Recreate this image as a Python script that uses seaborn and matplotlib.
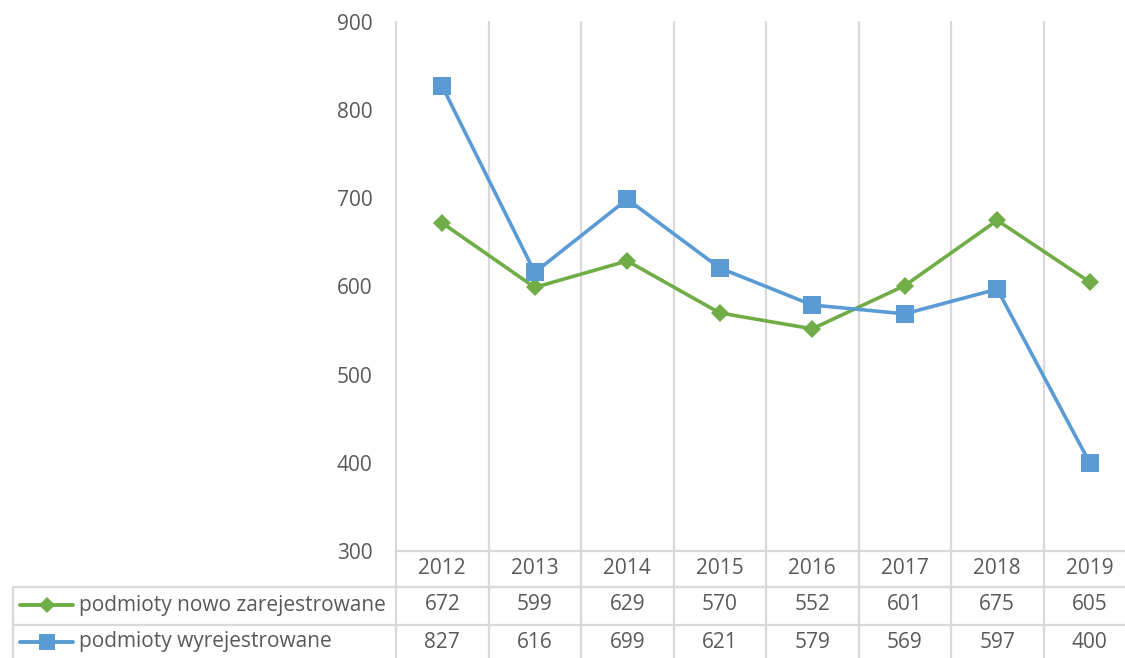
import matplotlib
matplotlib.use("Agg")
import matplotlib.pyplot as plt
from matplotlib.transforms import blended_transform_factory
from matplotlib.lines import Line2D
import seaborn as sns
import pandas as pd

years = [2012, 2013, 2014, 2015, 2016, 2017, 2018, 2019]
new_registered = [672, 599, 629, 570, 552, 601, 675, 605]
deregistered = [827, 616, 699, 621, 579, 569, 597, 400]
series_names = ["podmioty nowo zarejestrowane", "podmioty wyrejestrowane"]
y_ticks = [300, 400, 500, 600, 700, 800, 900]

GREEN = "#70AD47"
BLUE = "#5B9BD5"
GRID = "#D9D9D9"
TEXT = "#595959"

sns.set_theme(style="white")
plt.rcParams["font.family"] = ["Open Sans", "DejaVu Sans"]
FS = 15

W, H = 1125, 658
fig = plt.figure(figsize=(W / 100, H / 100), dpi=100)

# plot area in pixel terms (the last column runs past the right edge)
px_left, px_right, px_top, px_bottom = 396, 1136, 22, 551
ax = fig.add_axes([px_left / W, 1 - px_bottom / H,
                   (px_right - px_left) / W, (px_bottom - px_top) / H])

df = pd.DataFrame({
    "rok": years * 2,
    "liczba": new_registered + deregistered,
    "seria": [series_names[0]] * len(years) + [series_names[1]] * len(years),
})

sns.lineplot(data=df[df["seria"] == series_names[0]], x="rok", y="liczba",
             color=GREEN, marker="D", markersize=9.5, markeredgewidth=0,
             linewidth=2.6, ax=ax, legend=False, zorder=3)
sns.lineplot(data=df[df["seria"] == series_names[1]], x="rok", y="liczba",
             color=BLUE, marker="s", markersize=12.5, markeredgewidth=0,
             linewidth=2.6, ax=ax, legend=False, zorder=3)

ax.set_xlim(years[0] - 0.5, years[-1] + 0.5)
ax.set_ylim(y_ticks[0], y_ticks[-1])
ax.set_yticks(y_ticks)
ax.set_yticklabels([str(v) for v in y_ticks], color=TEXT, fontsize=FS)
ax.tick_params(axis="y", length=0, pad=17)
ax.set_xticks(years)
ax.set_xticklabels([])
ax.tick_params(axis="x", length=0)
ax.grid(False)
ax.set_xlabel("")
ax.set_ylabel("")
for side in ["left", "right", "top"]:
    ax.spines[side].set_visible(False)
ax.spines["bottom"].set_color(GRID)
ax.spines["bottom"].set_linewidth(1.6)

# category boundaries: gridlines through the plot and the data table
span = px_bottom - px_top
def ay(py):
    return -(py - px_bottom) / span

bounds = [y - 0.5 for y in years] + [years[-1] + 0.5]
tr = blended_transform_factory(ax.transData, ax.transAxes)
line_kw = dict(color=GRID, linewidth=1.6, clip_on=False, zorder=1)
for b in bounds:
    ax.add_line(Line2D([b, b], [1, ay(661)], transform=tr, **line_kw))

row_lines = [587, 625, 661]
for py in row_lines:
    fig.add_artist(Line2D([13 / W, 1.05], [1 - py / H] * 2, **line_kw))
fig.add_artist(Line2D([13 / W] * 2, [1 - 587 / H, 1 - 661 / H], **line_kw))

for yr in years:
    ax.text(yr, ay(568), str(yr), transform=tr, ha="center", va="center",
            fontsize=FS, color=TEXT, clip_on=False)
for yr, a, b in zip(years, new_registered, deregistered):
    ax.text(yr, ay(605), str(a), transform=tr, ha="center", va="center",
            fontsize=FS, color=TEXT, clip_on=False)
    ax.text(yr, ay(642), str(b), transform=tr, ha="center", va="center",
            fontsize=FS, color=TEXT, clip_on=False)

# series keys in the label column
for name, col, mk, ms, py in [(series_names[0], GREEN, "D", 8.5, 605),
                              (series_names[1], BLUE, "s", 11, 642)]:
    fy = 1 - py / H
    fig.add_artist(Line2D([20 / W, 73 / W], [fy, fy], color=col, linewidth=2.8,
                          solid_capstyle="round"))
    fig.add_artist(Line2D([47 / W], [fy], color=col, marker=mk, markersize=ms,
                          markeredgewidth=0, linestyle="none"))
    fig.text(79 / W, fy, name, ha="left", va="center", fontsize=FS, color=TEXT)

fig.savefig("out.png", dpi=100)
